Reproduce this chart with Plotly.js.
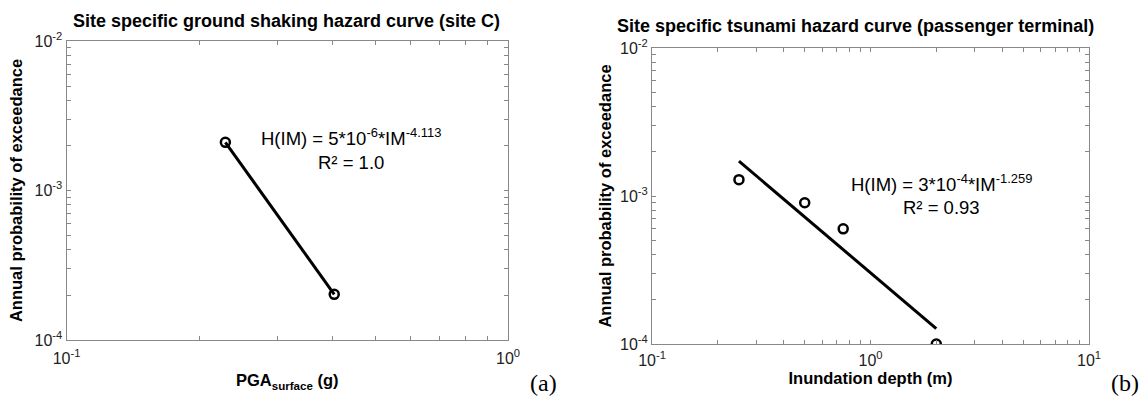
<!DOCTYPE html>
<html>
<head>
<meta charset="utf-8">
<script src="https://cdn.plot.ly/plotly-3.0.1.min.js"></script>
<style>
  html, body { margin: 0; padding: 0; background: #fff; }
  #chart { width: 1148px; height: 398px; }
</style>
</head>
<body>
<div id="chart"></div>
<script>
// ---- Panel (a): ground shaking hazard ----
const pgaX = [0.229, 0.404];
const pgaY = [2.1e-3, 2.02e-4];

// ---- Panel (b): tsunami hazard ----
const depthX = [0.25, 0.5, 0.75, 2.0];
const depthY = [1.29e-3, 9.0e-4, 6.0e-4, 1.0e-4];
const fitX = [0.25, 2.0];
const fitY = [1.72e-3, 1.27e-4];

// ---- Tick positions and labels ----
const yTickVals = [1e-4, 2e-4, 3e-4, 4e-4, 5e-4, 6e-4, 7e-4, 8e-4, 9e-4,
                   1e-3, 2e-3, 3e-3, 4e-3, 5e-3, 6e-3, 7e-3, 8e-3, 9e-3, 1e-2];
const yTickText = ['10<sup>-4</sup>', '', '', '', '', '', '', '', '',
                   '10<sup>-3</sup>', '', '', '', '', '', '', '', '', '10<sup>-2</sup>'];
const xTickValsA = [0.1, 0.2, 0.3, 0.4, 0.5, 0.6, 0.7, 0.8, 0.9, 1.0];
const xTickTextA = ['10<sup>-1</sup>', '', '', '', '', '', '', '', '', '10<sup>0</sup>'];
const xTickValsB = [0.1, 0.2, 0.3, 0.4, 0.5, 0.6, 0.7, 0.8, 0.9,
                    1, 2, 3, 4, 5, 6, 7, 8, 9, 10];
const xTickTextB = ['10<sup>-1</sup>', '', '', '', '', '', '', '', '',
                    '10<sup>0</sup>', '', '', '', '', '', '', '', '', '10<sup>1</sup>'];

const W = 1148, H = 398;
const px = v => v / W;
const py = v => 1 - v / H;

const FONT = '"Liberation Sans", Arial, sans-serif';
const lineStyle = {color: '#000', width: 3};
const markerStyle = {symbol: 'circle-open', size: 9, color: '#000', line: {color: '#000', width: 2.5}};

const traces = [
  {x: pgaX, y: pgaY, type: 'scatter', mode: 'lines+markers', line: lineStyle,
   marker: markerStyle, xaxis: 'x', yaxis: 'y', showlegend: false, name: 'Site C'},
  {x: fitX, y: fitY, type: 'scatter', mode: 'lines', line: lineStyle,
   xaxis: 'x2', yaxis: 'y2', showlegend: false, name: 'Fit'},
  {x: depthX, y: depthY, type: 'scatter', mode: 'markers', marker: markerStyle,
   xaxis: 'x2', yaxis: 'y2', showlegend: false, name: 'Passenger terminal'}
];

function axisBase(extra) {
  return Object.assign({
    type: 'log',
    tickmode: 'array',
    ticks: 'inside',
    ticklen: 4,
    tickwidth: 1,
    tickcolor: '#888',
    showline: true,
    linecolor: '#888',
    linewidth: 1,
    mirror: 'allticks',
    showgrid: false,
    zeroline: false,
    tickfont: {family: FONT, size: 16, color: '#222'},
    automargin: false
  }, extra);
}

const titleFont = {family: FONT, size: 16.5, color: '#000'};

const layout = {
  width: W, height: H,
  margin: {l: 0, r: 0, t: 0, b: 0},
  paper_bgcolor: '#fff',
  plot_bgcolor: '#fff',
  showlegend: false,
  font: {family: FONT},
  xaxis: axisBase({
    domain: [px(66.5), px(508)],
    range: [-1, 0],
    tickvals: xTickValsA, ticktext: xTickTextA,
    anchor: 'y',
    ticklabelstandoff: 4,
    title: {text: '<b>PGA<sub>surface</sub> (g)</b>', font: titleFont, standoff: 8}
  }),
  yaxis: axisBase({
    domain: [py(340), py(41)],
    range: [-4, -2],
    tickvals: yTickVals, ticktext: yTickText,
    anchor: 'x',
    title: {text: '<b>Annual probability of exceedance</b>', font: titleFont, standoff: 7}
  }),
  xaxis2: axisBase({
    domain: [px(652), px(1089)],
    range: [-1, 1],
    tickvals: xTickValsB, ticktext: xTickTextB,
    anchor: 'y2',
    ticklabelstandoff: 2,
    title: {text: '<b>Inundation depth (m)</b>', font: titleFont, standoff: 0}
  }),
  yaxis2: axisBase({
    domain: [py(344), py(48)],
    range: [-4, -2],
    tickvals: yTickVals, ticktext: yTickText,
    anchor: 'x2',
    title: {text: '<b>Annual probability of exceedance</b>', font: titleFont, standoff: 4}
  }),
  annotations: [
    {text: '<b>Site specific ground shaking hazard curve (site C)</b>', xref: 'paper', yref: 'paper',
     x: px(286), y: py(21), xanchor: 'center', yanchor: 'middle', showarrow: false,
     font: {family: FONT, size: 18, color: '#000'}},
    {text: '<b>Site specific tsunami hazard curve (passenger terminal)</b>', xref: 'paper', yref: 'paper',
     x: px(855), y: py(26), xanchor: 'center', yanchor: 'middle', showarrow: false,
     font: {family: FONT, size: 18, color: '#000'}},
    {text: 'H(IM) = 5*10<sup>-6</sup>*IM<sup>-4.113</sup>', xref: 'paper', yref: 'paper',
     x: px(351), y: py(137), xanchor: 'center', yanchor: 'middle', showarrow: false,
     font: {family: FONT, size: 18.5, color: '#000'}},
    {text: 'R² = 1.0', xref: 'paper', yref: 'paper',
     x: px(351), y: py(162), xanchor: 'center', yanchor: 'middle', showarrow: false,
     font: {family: FONT, size: 18.5, color: '#000'}},
    {text: 'H(IM) = 3*10<sup>-4</sup>*IM<sup>-1.259</sup>', xref: 'paper', yref: 'paper',
     x: px(941.5), y: py(183), xanchor: 'center', yanchor: 'middle', showarrow: false,
     font: {family: FONT, size: 18.5, color: '#000'}},
    {text: 'R² = 0.93', xref: 'paper', yref: 'paper',
     x: px(941), y: py(207), xanchor: 'center', yanchor: 'middle', showarrow: false,
     font: {family: FONT, size: 18.5, color: '#000'}},
    {text: '(a)', xref: 'paper', yref: 'paper',
     x: px(543), y: 0, xanchor: 'center', yanchor: 'bottom', showarrow: false,
     font: {family: '"Liberation Serif", "Times New Roman", serif', size: 24, color: '#000'}},
    {text: '(b)', xref: 'paper', yref: 'paper',
     x: px(1125), y: 0, xanchor: 'center', yanchor: 'bottom', showarrow: false,
     font: {family: '"Liberation Serif", "Times New Roman", serif', size: 24, color: '#000'}}
  ]
};

Plotly.newPlot('chart', traces, layout, {displayModeBar: false, staticPlot: true});
</script>
</body>
</html>
